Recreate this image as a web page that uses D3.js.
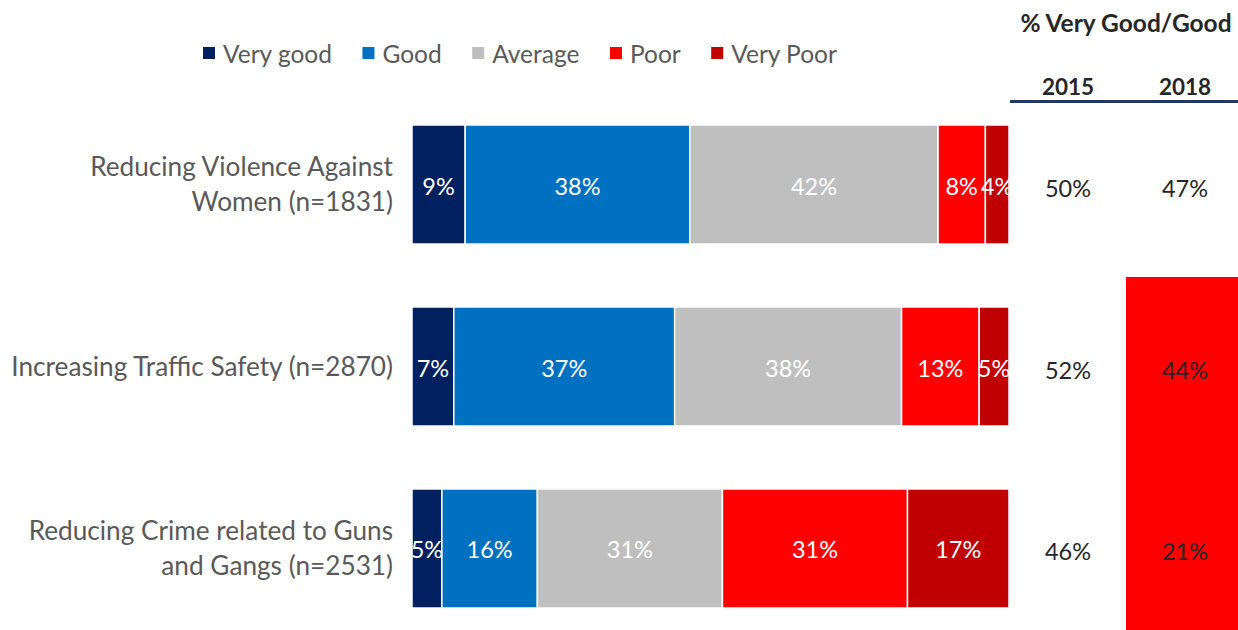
<!DOCTYPE html>
<html>
<head>
<meta charset="utf-8">
<script src="https://cdn.jsdelivr.net/npm/d3@7/dist/d3.min.js"></script>
<style>
  html, body { margin: 0; padding: 0; background: #fff; }
  svg { display: block; font-family: Lato, "Open Sans", sans-serif; }
</style>
</head>
<body>
<svg id="chart" width="1238" height="630"></svg>
<script>
// Rating categories (stack order, left to right)
const ratings = ["Very good", "Good", "Average", "Poor", "Very Poor"];
const ratingColors = ["#002060", "#0070C0", "#BFBFBF", "#FF0000", "#C00000"];

// Service areas
const areas = [
  ["Reducing Violence Against", "Women (n=1831)"],
  ["Increasing Traffic Safety (n=2870)"],
  ["Reducing Crime related to Guns", "and Gangs (n=2531)"]
];
const areaKeys = areas.map(a => a.join(" "));

// Share of respondents (%) per rating, one value per area
const veryGood = [9, 7, 5];
const good     = [38, 37, 16];
const average  = [42, 38, 31];
const poor     = [8, 13, 31];
const veryPoor = [4, 5, 17];

// % Very Good/Good by survey year
const years = ["2015", "2018"];
const share2015 = [50, 52, 46];
const share2018 = [47, 44, 21];
// Areas whose 2018 figure is flagged
const flagged2018 = [false, true, true];

const seriesValues = [veryGood, good, average, poor, veryPoor];

const svg = d3.select("#chart");
const labelGray = "#595959";
const darkText = "#262626";

// Scales
const x = d3.scaleLinear().domain([0, 1]).range([412, 1009]);
const y = d3.scaleBand().domain(areaKeys).range([125, 608]).paddingInner(0.346).paddingOuter(0);
const color = d3.scaleOrdinal().domain(ratings).range(ratingColors);
const yearX = d3.scalePoint().domain(years).range([1068, 1185]);

// Build stacked rows, normalised to each row's total
const rows = areaKeys.map((key, i) => {
  const vals = seriesValues.map(s => s[i]);
  const total = d3.sum(vals);
  let acc = 0;
  return vals.map((v, j) => {
    const seg = { key, rating: ratings[j], value: v, x0: acc / total, x1: (acc + v) / total };
    acc += v;
    return seg;
  });
});

// Clip for in-bar labels at the right edge of the plot area
svg.append("defs").append("clipPath").attr("id", "plotClip")
  .append("rect").attr("x", x(0) - 2).attr("y", 0).attr("width", x(1) - x(0) + 2).attr("height", 630);

// Flag rectangle behind flagged 2018 values
const firstFlag = flagged2018.indexOf(true);
svg.append("rect")
  .attr("x", 1126)
  .attr("y", y(areaKeys[firstFlag]) - 30)
  .attr("width", 1238 - 1126)
  .attr("height", 630 - (y(areaKeys[firstFlag]) - 30))
  .attr("fill", "#FF0000");

// Bars
const rowG = svg.selectAll("g.row").data(rows).join("g").attr("class", "row");
rowG.selectAll("rect").data(d => d).join("rect")
  .attr("x", d => x(d.x0))
  .attr("width", d => x(d.x1) - x(d.x0))
  .attr("y", d => y(d.key))
  .attr("height", y.bandwidth())
  .attr("fill", d => color(d.rating))
  .attr("stroke", "#fff")
  .attr("stroke-width", 1.5);

const labelG = svg.append("g").attr("clip-path", "url(#plotClip)");
labelG.selectAll("g").data(rows).join("g")
  .selectAll("text").data(d => d).join("text")
  .attr("x", d => (x(d.x0) + x(d.x1)) / 2)
  .attr("y", d => y(d.key) + y.bandwidth() / 2 + 1)
  .attr("text-anchor", "middle")
  .attr("dominant-baseline", "central")
  .attr("fill", "#fff")
  .attr("font-size", 23.5)
  .text(d => d.value + "%");

// Category labels
const catG = svg.selectAll("text.cat").data(areas).join("text")
  .attr("class", "cat")
  .attr("text-anchor", "end")
  .attr("fill", labelGray)
  .attr("font-size", 26.2);
catG.each(function(lines, i) {
  const cy = y(areaKeys[i]) + y.bandwidth() / 2;
  const lh = 34.5;
  const start = cy - (lines.length - 1) * lh / 2 - 1;
  d3.select(this).selectAll("tspan").data(lines).join("tspan")
    .attr("x", 393)
    .attr("y", (d, k) => start + k * lh)
    .attr("dominant-baseline", "central")
    .text(d => d);
});

// Legend
const legend = svg.append("g");
let lx = 203;
ratings.forEach((r, i) => {
  legend.append("rect").attr("x", lx).attr("y", 47).attr("width", 12).attr("height", 12).attr("fill", color(r));
  const t = legend.append("text").attr("x", lx + 20).attr("y", 53)
    .attr("dominant-baseline", "central")
    .attr("fill", labelGray).attr("font-size", 24.5).text(r);
  lx += 20 + t.node().getComputedTextLength() + 30.5;
});

// Right-hand summary header
svg.append("text").attr("x", 1126).attr("y", 22)
  .attr("text-anchor", "middle").attr("dominant-baseline", "central")
  .attr("font-weight", "bold").attr("font-size", 24.5).attr("fill", darkText)
  .text("% Very Good/Good");
svg.selectAll("text.year").data(years).join("text").attr("class", "year")
  .attr("x", d => yearX(d)).attr("y", 86)
  .attr("text-anchor", "middle").attr("dominant-baseline", "central")
  .attr("font-weight", "bold").attr("font-size", 22.5).attr("fill", darkText)
  .text(d => d);
svg.append("line").attr("x1", 1010).attr("x2", 1238).attr("y1", 101.5).attr("y2", 101.5)
  .attr("stroke", "#1F3864").attr("stroke-width", 3);

// Summary values
[share2015, share2018].forEach((vals, k) => {
  svg.selectAll("text.y" + years[k]).data(vals).join("text").attr("class", "y" + years[k])
    .attr("x", yearX(years[k]))
    .attr("y", (d, i) => y(areaKeys[i]) + y.bandwidth() / 2 + 3)
    .attr("text-anchor", "middle").attr("dominant-baseline", "central")
    .attr("font-size", 23.5).attr("fill", darkText)
    .text(d => d + "%");
});
</script>
</body>
</html>
